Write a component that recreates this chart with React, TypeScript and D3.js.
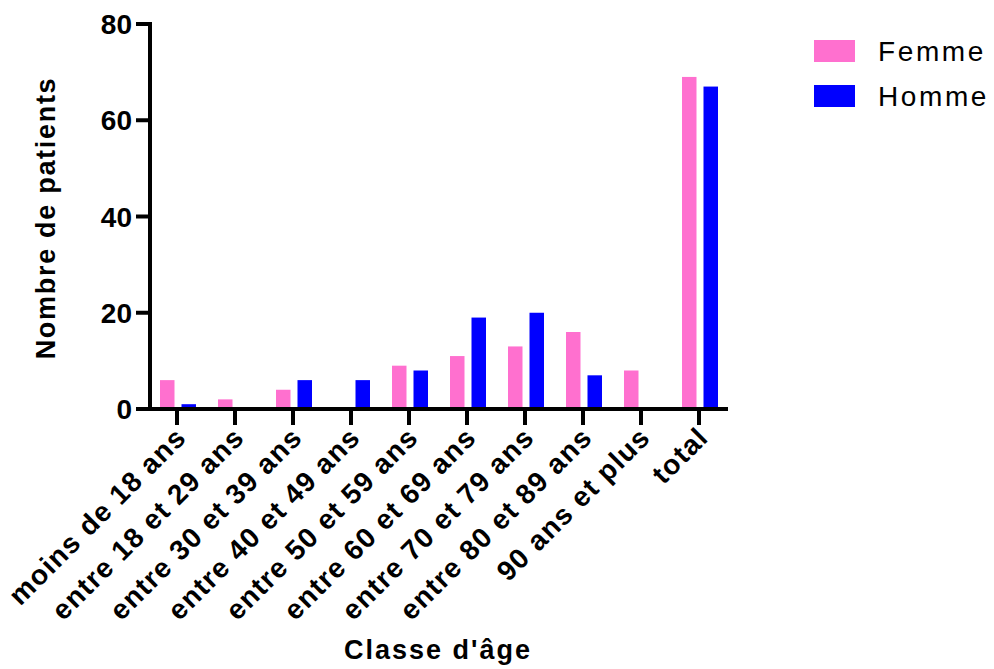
import React from "react";
import * as d3 from "d3";

const categories = [
  "moins de 18 ans",
  "entre 18 et 29 ans",
  "entre 30 et 39 ans",
  "entre 40 et 49 ans",
  "entre 50 et 59 ans",
  "entre 60 et 69 ans",
  "entre 70 et 79 ans",
  "entre 80 et 89 ans",
  "90 ans et plus",
  "total",
];
const femme = [6, 2, 4, 0, 9, 11, 13, 16, 8, 69];
const homme = [1, 0, 6, 6, 8, 19, 20, 7, 0, 67];
const seriesNames = ["Femme", "Homme"];
const seriesColors = ["#FF70CF", "#0000FF"];
const yTicks = [0, 20, 40, 60, 80];

const FONT = "'Liberation Sans', Arial, sans-serif";

export default function App() {
  const W = 994, H = 669;
  const x = d3.scaleBand<string>().domain(categories).range([148, 728]);
  const y = d3.scaleLinear().domain([0, 80]).range([409, 24]);
  const barW = 14.5;
  const gap = 7;
  const series = [femme, homme];
  return (
    <svg width={W} height={H} style={{ position: "absolute", left: 0, top: 0 }}>
      <rect width={W} height={H} fill="#fff" />
      {series.map((vals, si) =>
        vals.map((v, i) => {
          const cx = x(categories[i])! + x.bandwidth() / 2 + 1;
          const x0 = si === 0 ? cx - gap / 2 - barW : cx + gap / 2;
          return (
            <rect
              key={`${si}-${i}`}
              x={x0}
              y={y(v)}
              width={barW}
              height={y(0) - y(v)}
              fill={seriesColors[si]}
            />
          );
        })
      )}
      {/* y axis */}
      <line x1={150} x2={150} y1={22} y2={411} stroke="#000" strokeWidth={4} />
      {yTicks.map((t) => (
        <g key={t}>
          <line x1={136} x2={150} y1={y(t)} y2={y(t)} stroke="#000" strokeWidth={4} />
          <text
            x={132}
            y={y(t)}
            dy="0.36em"
            textAnchor="end"
            fontFamily={FONT}
            fontWeight="bold"
            fontSize={28}
          >
            {t}
          </text>
        </g>
      ))}
      {/* x axis */}
      <line x1={148} x2={728} y1={409} y2={409} stroke="#000" strokeWidth={4} />
      {categories.map((c) => {
        const cx = x(c)! + x.bandwidth() / 2;
        return (
          <g key={c}>
            <line x1={cx} x2={cx} y1={409} y2={425} stroke="#000" strokeWidth={4} />
            <text
              transform={`translate(${cx + 11},${439}) rotate(-45)`}
              textAnchor="end"
              fontFamily={FONT}
              fontWeight="bold"
              fontSize={28}
              letterSpacing={1.3}
            >
              {c}
            </text>
          </g>
        );
      })}
      <text
        x={438}
        y={659}
        textAnchor="middle"
        fontFamily={FONT}
        fontWeight="bold"
        fontSize={27}
        letterSpacing={2}
      >
        Classe d'âge
      </text>
      <text
        transform={`translate(55,218) rotate(-90)`}
        textAnchor="middle"
        fontFamily={FONT}
        fontWeight="bold"
        fontSize={27}
        letterSpacing={1.7}
      >
        Nombre de patients
      </text>
      {seriesNames.map((n, i) => (
        <g key={n}>
          <rect x={814} y={40 + i * 45} width={41} height={22} fill={seriesColors[i]} />
          <text x={878} y={61 + i * 45} fontFamily={FONT} fontSize={28} letterSpacing={2.6}>
            {n}
          </text>
        </g>
      ))}
    </svg>
  );
}
